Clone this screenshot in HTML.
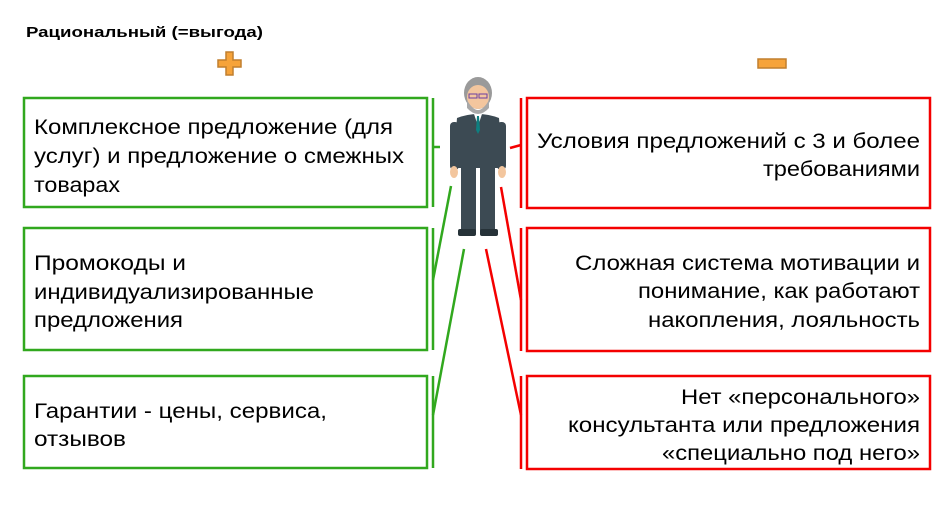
<!DOCTYPE html>
<html><head><meta charset="utf-8"><style>
html,body{margin:0;padding:0;background:#fff;width:952px;height:532px;overflow:hidden}
text{font-family:"Liberation Sans",Arial,sans-serif;font-size:21px;fill:#000}
</style></head><body>
<svg width="952" height="532" viewBox="0 0 952 532" xmlns="http://www.w3.org/2000/svg">
<text x="26" y="37" style="font-size:15px;font-weight:bold" textLength="237" lengthAdjust="spacingAndGlyphs">Рациональный (=выгода)</text>
<path d="M226 52h7v8h8v7h-8v8h-7v-8h-8v-7h8z" fill="#f6a33a" stroke="#c07f2e" stroke-width="1.5"/>
<rect x="758" y="59" width="28" height="9" fill="#f6a33a" stroke="#c07f2e" stroke-width="1.5"/>

<g fill="none" stroke="#31a81e" stroke-width="2.5">
<rect x="24" y="98" width="403" height="109"/>
<rect x="24" y="228" width="403" height="122"/>
<rect x="24" y="376" width="403" height="92"/>
<line x1="433" y1="98" x2="433" y2="207"/>
<line x1="433" y1="228" x2="433" y2="350"/>
<line x1="433" y1="376" x2="433" y2="468"/>
<line x1="433" y1="147" x2="440" y2="147"/>
<line x1="451" y1="186" x2="433" y2="280"/>
<line x1="464" y1="249" x2="433" y2="415"/>
</g>
<g fill="none" stroke="#f40000" stroke-width="2.5">
<rect x="527" y="98" width="403" height="110"/>
<rect x="527" y="228" width="403" height="123"/>
<rect x="527" y="376" width="403" height="93"/>
<line x1="521" y1="98" x2="521" y2="208"/>
<line x1="521" y1="228" x2="521" y2="351"/>
<line x1="521" y1="376" x2="521" y2="469"/>
<line x1="510" y1="148" x2="521" y2="145"/>
<line x1="501" y1="187" x2="521" y2="300"/>
<line x1="486" y1="249" x2="521" y2="415"/>
</g>

<g>
<ellipse cx="478" cy="93" rx="14" ry="16" fill="#9a9a9a"/>
<ellipse cx="478" cy="97" rx="11" ry="12" fill="#f3c69e"/>
<path d="M467 100q11 20 22 0v8q-11 12-22 0z" fill="#a8a8a8"/>
<rect x="469" y="94" width="8" height="4" fill="none" stroke="#6b3fa0" stroke-width="1"/>
<rect x="479" y="94" width="8" height="4" fill="none" stroke="#6b3fa0" stroke-width="1"/>
<path d="M457 118q21-8 42 0l4 50h-50z" fill="#3c4a53"/>
<path d="M474 114l4 12 4-12z" fill="#fff"/>
<path d="M477 116h2l1 14-2 4-2-4z" fill="#0e7f80"/>
<rect x="450" y="122" width="9" height="48" rx="4" fill="#3c4a53"/>
<rect x="497" y="122" width="9" height="48" rx="4" fill="#3c4a53"/>
<ellipse cx="454" cy="172" rx="4" ry="6" fill="#f3c69e"/>
<ellipse cx="502" cy="172" rx="4" ry="6" fill="#f3c69e"/>
<rect x="461" y="165" width="15" height="66" fill="#3c4a53"/>
<rect x="480" y="165" width="15" height="66" fill="#3c4a53"/>
<rect x="458" y="229" width="18" height="7" rx="2" fill="#263238"/>
<rect x="480" y="229" width="18" height="7" rx="2" fill="#263238"/>
</g>

<g lengthAdjust="spacingAndGlyphs">
<text x="34" y="134" textLength="359" lengthAdjust="spacingAndGlyphs">Комплексное предложение (для</text>
<text x="34" y="163" textLength="370" lengthAdjust="spacingAndGlyphs">услуг) и предложение о смежных</text>
<text x="34" y="192" textLength="86" lengthAdjust="spacingAndGlyphs">товарах</text>
<text x="34" y="270" textLength="152" lengthAdjust="spacingAndGlyphs">Промокоды и</text>
<text x="34" y="299" textLength="280" lengthAdjust="spacingAndGlyphs">индивидуализированные</text>
<text x="34" y="327" textLength="149" lengthAdjust="spacingAndGlyphs">предложения</text>
<text x="34" y="418" textLength="293" lengthAdjust="spacingAndGlyphs">Гарантии - цены, сервиса,</text>
<text x="34" y="446" textLength="92" lengthAdjust="spacingAndGlyphs">отзывов</text>

<text x="537" y="148" textLength="383" lengthAdjust="spacingAndGlyphs">Условия предложений с 3 и более</text>
<text x="763" y="176" textLength="157" lengthAdjust="spacingAndGlyphs">требованиями</text>
<text x="575" y="270" textLength="345" lengthAdjust="spacingAndGlyphs">Сложная система мотивации и</text>
<text x="638" y="298" textLength="282" lengthAdjust="spacingAndGlyphs">понимание, как работают</text>
<text x="648" y="327" textLength="272" lengthAdjust="spacingAndGlyphs">накопления, лояльность</text>
<text x="681" y="404" textLength="239" lengthAdjust="spacingAndGlyphs">Нет «персонального»</text>
<text x="568" y="432" textLength="352" lengthAdjust="spacingAndGlyphs">консультанта или предложения</text>
<text x="662" y="460" textLength="258" lengthAdjust="spacingAndGlyphs">«специально под него»</text>
</g>
</svg>
</body></html>
